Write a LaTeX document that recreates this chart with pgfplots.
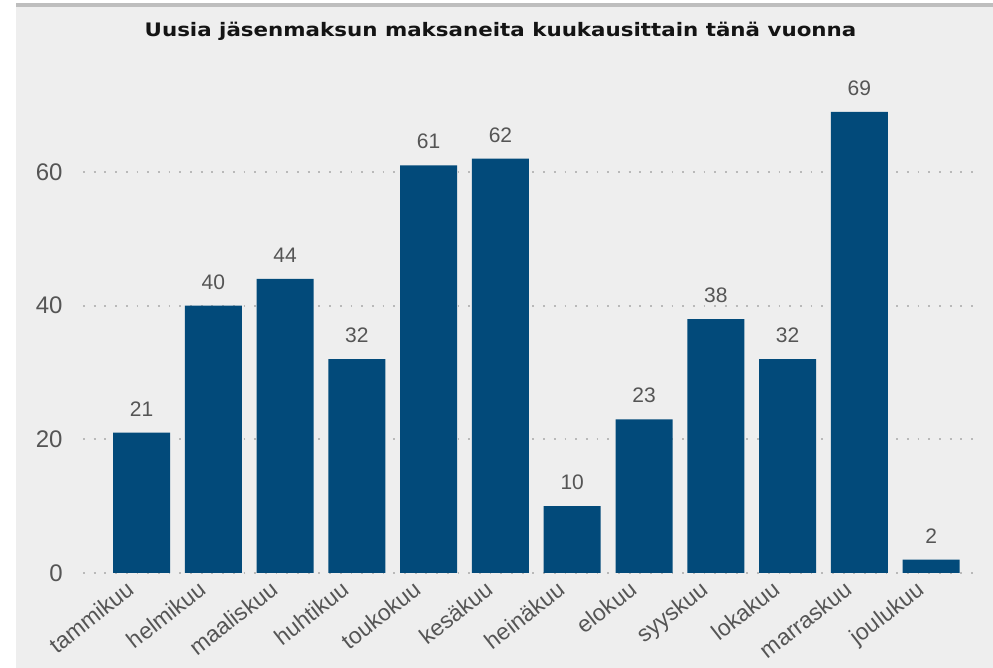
\documentclass[border=0pt]{standalone}
\usepackage{fontspec}
\setmainfont{Liberation Sans}
\newfontfamily\titlefont[FakeStretch=1.15]{DejaVu Sans}
\usepackage{pgfplots}
\pgfplotsset{compat=1.18}
\definecolor{barblue}{RGB}{2,74,122}
\definecolor{bg}{RGB}{238,238,238}
\definecolor{lbl}{RGB}{85,85,85}
\definecolor{topline}{RGB}{190,190,190}

\begin{document}
\begin{tikzpicture}[x=0.5pt,y=0.5pt]
% page: 993 x 668 px, 1 px = 0.5pt, y measured from the bottom (668 - py)
\fill[white] (0,0) rectangle (993,668);
\fill[bg] (16,0) rectangle (993,661);
\fill[topline] (16,661) rectangle (993,665);
\node[font=\titlefont\bfseries\fontsize{9.3}{10}\selectfont, text=black!92] at (500.5,637) {Uusia jäsenmaksun maksaneita kuukausittain tänä vuonna};
\begin{axis}[
    at={(83pt*0.5,95pt*0.5)}, anchor=south west,
    scale only axis,
    width=448.5pt, height=250.6pt,
    xmin=-0.815, xmax=11.68,
    ymin=0, ymax=75,
    ytick={0,20,40,60},
    xtick=data,
    xticklabels={tammikuu,helmikuu,maaliskuu,huhtikuu,toukokuu,kesäkuu,heinäkuu,elokuu,syyskuu,lokakuu,marraskuu,joulukuu},
    axis line style={draw=none},
    major tick length=0pt,
    ymajorgrids,
    grid style={gray!55, line width=0.9pt, dash pattern=on 0.9pt off 4.45pt},
    tick label style={text=lbl},
    yticklabel style={font=\fontsize{12}{14}\selectfont, inner sep=0pt, xshift=-10pt},
    /pgf/number format/assume math mode=true,
    xticklabel style={font=\fontsize{11.5}{13}\selectfont, inner sep=0pt, xshift=-8pt, yshift=-3pt, rotate=38, anchor=north east},
    ybar, bar width=28.5pt,
    nodes near coords,
    nodes near coords style={font=\fontsize{10.5}{12}\selectfont, text=lbl, anchor=base, inner sep=0pt, yshift=8.3pt},
    clip=false,
]
\addplot[fill=barblue, draw=none] coordinates {
(0,21) (1,40) (2,44) (3,32) (4,61) (5,62) (6,10) (7,23) (8,38) (9,32) (10,69) (11,2)
};
\end{axis}
\end{tikzpicture}
\end{document}
